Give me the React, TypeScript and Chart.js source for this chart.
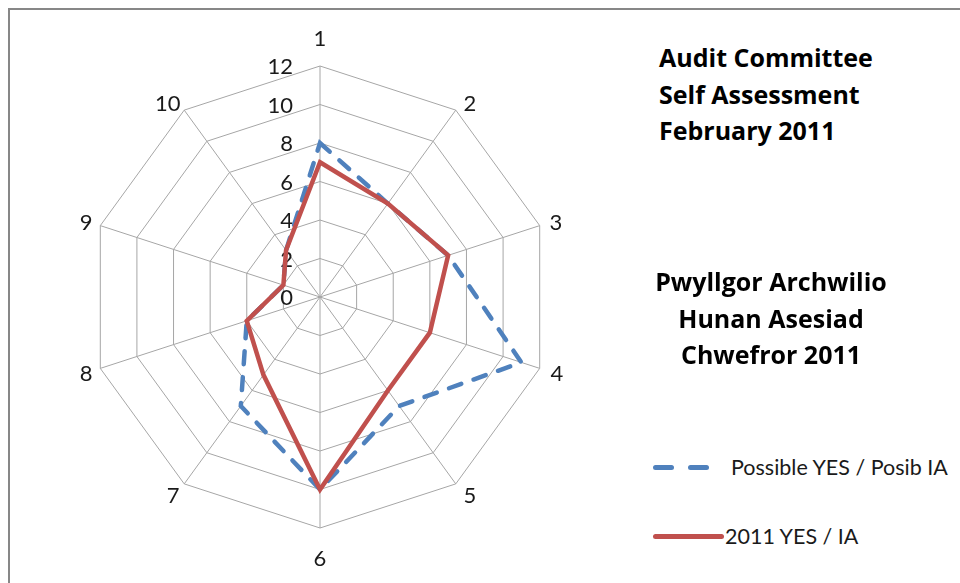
import React, { useEffect, useRef } from 'react';
import { Chart, registerables } from 'chart.js';

Chart.register(...registerables);

// ---- data ----
const categories = ['1', '2', '3', '4', '5', '6', '7', '8', '9', '10'];
const possibleYes = [8, 6, 7, 11, 7, 10, 7, 4, 2, 3];
const yes2011 = [7, 6, 7, 6, 6, 10, 5, 4, 2, 3];
const tickValues = [0, 2, 4, 6, 8, 10, 12];
const seriesNames = ['Possible YES / Posib IA', '2011 YES / IA'];
const titleLines = ['Audit Committee', 'Self Assessment', 'February 2011'];
const welshLines = ['Pwyllgor Archwilio', 'Hunan Asesiad', 'Chwefror 2011'];

const FONT = 'Lato, "Open Sans", sans-serif';
const TITLE_FONT = '"Open Sans", Lato, sans-serif';
const BLUE = '#4F81BD';
const RED = '#C0504D';
const GRID = '#A6A6A6';
const TEXT = '#1a1a1a';

// label gaps beyond the outer ring (horizontal / vertical components)
const labelGapX = [0, 24, 17, 18, 24, 0, 19, 15, 15, 28];
const labelGapY = [28, 9, 12, 15, 14, 30, 14, 15, 12, 9];

const radialText = {
  id: 'radialText',
  beforeDatasetsDraw(chart: any) {
    const scale = chart.scales.r;
    const ctx = chart.ctx;
    ctx.save();
    ctx.font = `22px ${FONT}`;
    ctx.fillStyle = TEXT;
    ctx.textBaseline = 'middle';
    ctx.textAlign = 'right';
    scale.ticks.forEach((t: any) => {
      const d = scale.getDistanceFromCenterForValue(t.value);
      ctx.fillText(String(t.value), scale.xCenter - 27, scale.yCenter - d + 1);
    });
    ctx.restore();
  },
  afterDraw(chart: any) {
    const scale = chart.scales.r;
    const ctx = chart.ctx;
    const R = scale.drawingArea;
    ctx.save();
    ctx.font = `22px ${FONT}`;
    ctx.fillStyle = TEXT;
    ctx.textBaseline = 'middle';
    ctx.textAlign = 'center';
    (chart.data.labels as string[]).forEach((lab, i) => {
      const px = scale.getPointPosition(i, R + labelGapX[i]);
      const py = scale.getPointPosition(i, R + labelGapY[i]);
      ctx.fillText(lab, px.x, py.y + 1);
    });
    ctx.restore();
  },
};

export default function App() {
  const ref = useRef<HTMLCanvasElement | null>(null);

  useEffect(() => {
    if (!ref.current) return;
    const chart = new Chart(ref.current, {
      type: 'radar',
      data: {
        labels: categories,
        datasets: [
          {
            label: seriesNames[0],
            data: possibleYes,
            borderColor: BLUE,
            backgroundColor: 'transparent',
            borderWidth: 4.5,
            borderDash: [13, 13],
            borderCapStyle: 'round',
            fill: false,
            pointRadius: 0,
            order: 2,
          },
          {
            label: seriesNames[1],
            data: yes2011,
            borderColor: RED,
            backgroundColor: 'transparent',
            borderWidth: 4.5,
            fill: false,
            pointRadius: 0,
            order: 1,
          },
        ],
      },
      options: {
        responsive: false,
        animation: false,
        layout: { padding: { left: 89, right: 89, top: 66, bottom: 55 } },
        plugins: { legend: { display: false }, tooltip: { enabled: false } },
        scales: {
          r: {
            min: 0,
            max: 12,
            afterBuildTicks: (scale: any) => {
              scale.ticks = tickValues.map((v) => ({ value: v }));
            },
            ticks: { stepSize: 2, display: false },
            grid: { color: GRID, lineWidth: 1 },
            angleLines: { color: GRID, lineWidth: 1 },
            pointLabels: { display: false },
          },
        },
      },
      plugins: [radialText],
    } as any);
    return () => chart.destroy();
  }, []);

  return (
    <div style={{ position: 'absolute', left: 0, top: 0, width: 960, height: 583, overflow: 'hidden', background: '#fff', fontFamily: FONT }}>
      <div style={{ position: 'absolute', left: 8, top: 8, width: 1000, height: 700, borderLeft: '2px solid #878787', borderTop: '2px solid #878787' }} />
      <canvas ref={ref} width={640} height={583} style={{ position: 'absolute', left: 0, top: 0 }} />
      <div style={{ position: 'absolute', left: 659, top: 39, fontFamily: TITLE_FONT, fontWeight: 700, fontSize: 25, lineHeight: '36.5px', color: '#000', whiteSpace: 'nowrap' }}>
        {titleLines.map((l) => (<div key={l}>{l}</div>))}
      </div>
      <div style={{ position: 'absolute', left: 571, width: 400, top: 263, fontFamily: TITLE_FONT, fontWeight: 700, fontSize: 25, lineHeight: '36.5px', color: '#000', textAlign: 'center', whiteSpace: 'nowrap' }}>
        {welshLines.map((l) => (<div key={l}>{l}</div>))}
      </div>
      {/* legend */}
      <div style={{ position: 'absolute', left: 653, top: 465, width: 21, height: 4.5, borderRadius: 3, background: BLUE }} />
      <div style={{ position: 'absolute', left: 688, top: 465, width: 21, height: 4.5, borderRadius: 3, background: BLUE }} />
      <div style={{ position: 'absolute', left: 731, top: 453, fontSize: 21.5, lineHeight: '28px', color: TEXT, whiteSpace: 'nowrap' }}>{seriesNames[0]}</div>
      <div style={{ position: 'absolute', left: 653, top: 534, width: 71, height: 4.5, borderRadius: 3, background: RED }} />
      <div style={{ position: 'absolute', left: 725, top: 522, fontSize: 21.5, lineHeight: '28px', color: TEXT, whiteSpace: 'nowrap' }}>{seriesNames[1]}</div>
    </div>
  );
}
